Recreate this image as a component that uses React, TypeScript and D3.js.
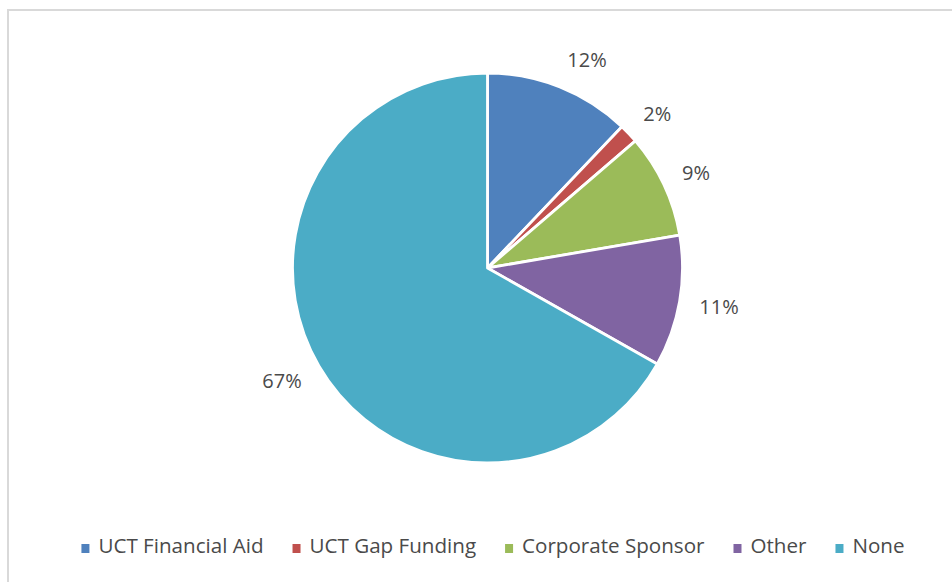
import * as d3 from 'd3'
import { useEffect, useRef } from 'react'

// funding source shares (percent)
const categories = ['UCT Financial Aid', 'UCT Gap Funding', 'Corporate Sponsor', 'Other', 'None']
const shares = [12.1, 1.6, 8.6, 10.9, 66.8]
const colors = ['#4F81BD', '#C0504D', '#9BBB59', '#8064A2', '#4BACC6']

const W = 952
const H = 582
const FONT = '"Open Sans", sans-serif'
const TEXT = '#4a4a4a'

const App = () => {
    const ref = useRef<SVGSVGElement>(null)

    useEffect(() => {
        document.body.style.margin = '0'
        const svg = d3.select(ref.current)
        svg.selectAll('*').remove()

        // chart area border (only top and left are visible in the frame)
        svg.append('rect')
            .attr('x', 8)
            .attr('y', 10)
            .attr('width', W + 40)
            .attr('height', H + 40)
            .attr('fill', 'white')
            .attr('stroke', '#d9d9d9')
            .attr('stroke-width', 2)

        const cx = 487.5
        const cy = 268
        const radius = 195
        const labelRadius = 215

        const data = categories.map((c, i) => ({ name: c, value: shares[i], color: colors[i] }))

        const pie = d3.pie<any>()
            .sort(null)
            .value(d => d.value)
            .startAngle(0)
            .endAngle(2 * Math.PI)

        const arc = d3.arc<any>()
            .innerRadius(0)
            .outerRadius(radius)

        const g = svg.append('g')
            .attr('transform', `translate(${cx},${cy})`)

        const arcs = pie(data)

        g.selectAll('path.slice')
            .data(arcs)
            .join('path')
            .attr('class', 'slice')
            .attr('d', arc)
            .attr('fill', d => d.data.color)
            .attr('stroke', 'white')
            .attr('stroke-width', 2.8)
            .attr('stroke-linejoin', 'round')

        // outside-end labels: anchor just past the rim, text pushed away from the pie
        const labels = g.selectAll('text.lbl')
            .data(arcs)
            .join('text')
            .attr('class', 'lbl')
            .attr('font-family', FONT)
            .attr('font-size', 20)
            .attr('fill', TEXT)
            .text(d => `${Math.round(d.data.value)}%`)

        labels.each(function (d) {
            const el = this as SVGTextElement
            const w = el.getComputedTextLength()
            const h = 18
            const a = (d.startAngle + d.endAngle) / 2
            const s = Math.sin(a)
            const c = Math.cos(a)
            const ax = labelRadius * s
            const ay = -labelRadius * c
            const tx = ax + (s >= 0 ? w / 2 : -w / 2)
            const ty = ay - (h / 2) * c
            d3.select(el)
                .attr('text-anchor', 'middle')
                .attr('x', tx)
                .attr('y', ty + 7)
        })

        // legend along the bottom, centered
        const legend = svg.append('g')
        const markerW = 8
        const markerGap = 9
        const itemGap = 29
        const items = legend.selectAll('g.item')
            .data(data)
            .join('g')
            .attr('class', 'item')

        items.append('rect')
            .attr('width', markerW)
            .attr('height', 9)
            .attr('y', 544)
            .attr('fill', d => d.color)

        items.append('text')
            .attr('x', markerW + markerGap)
            .attr('y', 553)
            .attr('font-family', FONT)
            .attr('font-size', 20.6)
            .attr('fill', TEXT)
            .text(d => d.name)

        const widths: number[] = []
        items.select('text').each(function () {
            widths.push((this as SVGTextElement).getComputedTextLength())
        })
        const itemWidths = widths.map(w => markerW + markerGap + w)
        const total = d3.sum(itemWidths) + itemGap * (itemWidths.length - 1)
        let x = 493 - total / 2
        items.attr('transform', (_d, i) => {
            const t = `translate(${x},0)`
            x += itemWidths[i] + itemGap
            return t
        })
    }, [])

    return (
        <svg
            ref={ref}
            width={W}
            height={H}
            style={{ display: 'block', position: 'absolute', left: 0, top: 0 }}
        ></svg>
    )
}

export default App
